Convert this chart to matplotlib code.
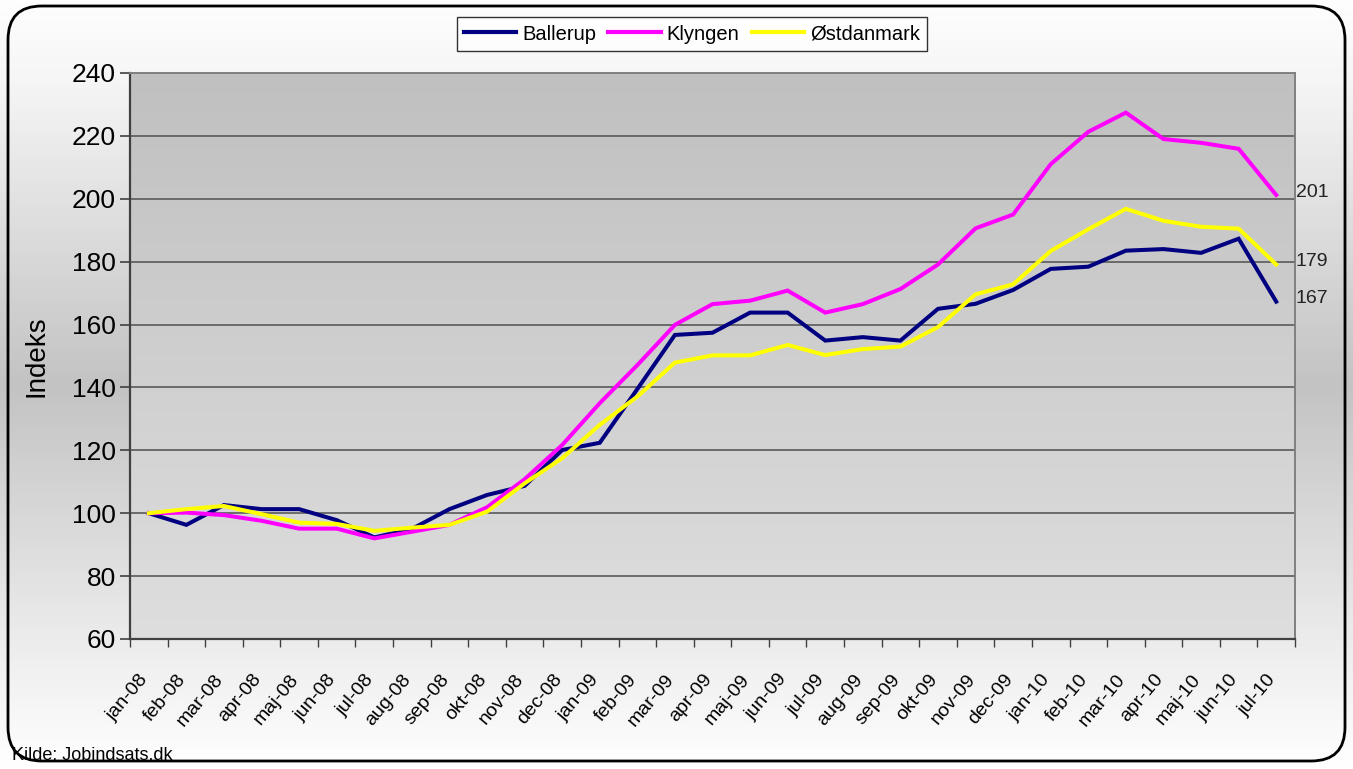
import numpy as np
import matplotlib
matplotlib.use("Agg")
import matplotlib.pyplot as plt
from matplotlib.patches import FancyBboxPatch
from matplotlib.transforms import ScaledTranslation

months = ["jan-08", "feb-08", "mar-08", "apr-08", "maj-08", "jun-08", "jul-08", "aug-08",
          "sep-08", "okt-08", "nov-08", "dec-08", "jan-09", "feb-09", "mar-09", "apr-09",
          "maj-09", "jun-09", "jul-09", "aug-09", "sep-09", "okt-09", "nov-09", "dec-09",
          "jan-10", "feb-10", "mar-10", "apr-10", "maj-10", "jun-10", "jul-10"]

ballerup = [100.0, 96.3, 102.6, 101.3, 101.3, 97.8, 92.3, 95.0, 101.3, 105.8, 108.7, 120.1,
            122.4, 139.5, 156.7, 157.4, 163.8, 163.8, 154.9, 156.0, 154.9, 165.0, 166.6, 171.0,
            177.7, 178.4, 183.5, 184.0, 182.8, 187.3, 167.3]
klyngen = [100.0, 100.2, 99.4, 97.6, 95.1, 95.1, 92.0, 94.1, 96.3, 101.9, 110.8, 121.7,
           135.0, 147.1, 159.9, 166.5, 167.6, 170.8, 163.8, 166.5, 171.3, 179.1, 190.6, 195.0,
           211.0, 221.3, 227.4, 219.0, 217.8, 215.9, 201.2]
oestdanmark = [100.0, 101.3, 102.3, 99.7, 97.0, 96.6, 94.4, 95.4, 96.3, 100.5, 109.5, 117.5,
               128.1, 137.1, 147.9, 150.2, 150.2, 153.5, 150.3, 152.2, 153.0, 159.2, 169.6, 172.8,
               183.4, 190.3, 196.8, 193.0, 191.1, 190.5, 179.1]

series = [("Ballerup", ballerup, "#000080"),
          ("Klyngen", klyngen, "#FF00FF"),
          ("Østdanmark", oestdanmark, "#FFFF00")]

yticks = [60, 80, 100, 120, 140, 160, 180, 200, 220, 240]

W, H = 1353, 769
fig = plt.figure(figsize=(W / 100, H / 100), dpi=100)
fig.patch.set_facecolor("white")

# figure background gradient
bg = fig.add_axes([0, 0, 1, 1], zorder=-10)
bg.set_axis_off()
yy = np.linspace(0, 1, 400)
vals = np.interp(yy, [0, 0.1, 0.5, 0.85, 1.0], [254, 246, 195, 238, 255]) / 255.0
img = np.repeat(vals[:, None], 2, axis=1)
img = np.dstack([img, img, img])
bg.imshow(img, aspect="auto", extent=[0, 1, 1, 0], interpolation="bilinear")
bg.set_xlim(0, 1)
bg.set_ylim(1, 0)
border = FancyBboxPatch((8 / W, 8 / H), (W - 16) / W, (H - 14) / H,
                        boxstyle="round,pad=0,rounding_size=0.025",
                        transform=bg.transAxes, fill=False, edgecolor="black",
                        linewidth=2.0, mutation_aspect=W / H)
bg.add_patch(border)

L, R, T, B = 130, 1295, 73, 639
ax = fig.add_axes([L / W, 1 - B / H, (R - L) / W, (B - T) / H])
x = np.arange(len(months))
ax.set_xlim(-0.5, len(months) - 0.5)
ax.set_ylim(60, 240)

# plot area gradient: darker at top, lighter at bottom
pg = np.linspace(192, 222, 200)[:, None] / 255.0
pimg = np.dstack([pg, pg, pg])
ax.imshow(pimg, aspect="auto", extent=[-0.5, len(months) - 0.5, 60, 240],
          origin="upper", zorder=0, interpolation="bilinear")

for yv in yticks:
    ax.axhline(yv, color="#5a5a5a", linewidth=1.2, zorder=1)

for name, vals_, col in series:
    ax.plot(x, vals_, color=col, linewidth=2.9, label=name, zorder=3,
            solid_joinstyle="miter")

for name, vals_, col in series:
    ax.annotate(f"{round(vals_[-1])}", xy=(len(months) - 0.5, vals_[-1]),
                xytext=(0.5, 2), textcoords="offset points", va="center", ha="left",
                fontsize=14, family="Liberation Sans",
                color="#222222", annotation_clip=False)

ax.set_yticks(yticks)
ax.set_yticklabels([str(v) for v in yticks], fontsize=19, family="Liberation Sans")
ax.tick_params(axis="y", length=7, width=1.2, color="#404040", pad=3)

ax.set_xticks(np.arange(-0.5, len(months)))
ax.set_xticklabels([])
ax.tick_params(axis="x", length=6, width=1.0, color="#404040")

# rotated month labels
lab_tr = ax.get_xaxis_transform() + ScaledTranslation(-10 / 100, -32 / 100, fig.dpi_scale_trans)
for xi, m in zip(x, months):
    ax.text(xi, 0, m, transform=lab_tr, rotation=50, ha="right", va="top",
            rotation_mode="anchor", fontsize=14, family="Liberation Sans", clip_on=False)

for s in ["left", "bottom"]:
    ax.spines[s].set_color("#404040")
    ax.spines[s].set_linewidth(1.6)
for s in ["top", "right"]:
    ax.spines[s].set_color("#808080")
    ax.spines[s].set_linewidth(1.4)

ax.set_ylabel("Indeks", fontsize=20, family="Liberation Sans", labelpad=16)

leg = fig.legend(loc="center", bbox_to_anchor=(692 / W, 1 - 34 / H), ncol=3,
                 frameon=True, fancybox=False, edgecolor="black", facecolor="white",
                 prop={"family": "Liberation Sans", "size": 14.5}, handlelength=2.6,
                 columnspacing=0.6, handletextpad=0.3, borderpad=0.35)
leg.get_frame().set_linewidth(1.0)
for h in leg.get_lines():
    h.set_linewidth(3)

fig.text(12 / W, 1 - 755 / H, "Kilde: Jobindsats.dk", fontsize=13, family="Liberation Sans",
         va="center", ha="left")

fig.savefig("out.png", dpi=100)
